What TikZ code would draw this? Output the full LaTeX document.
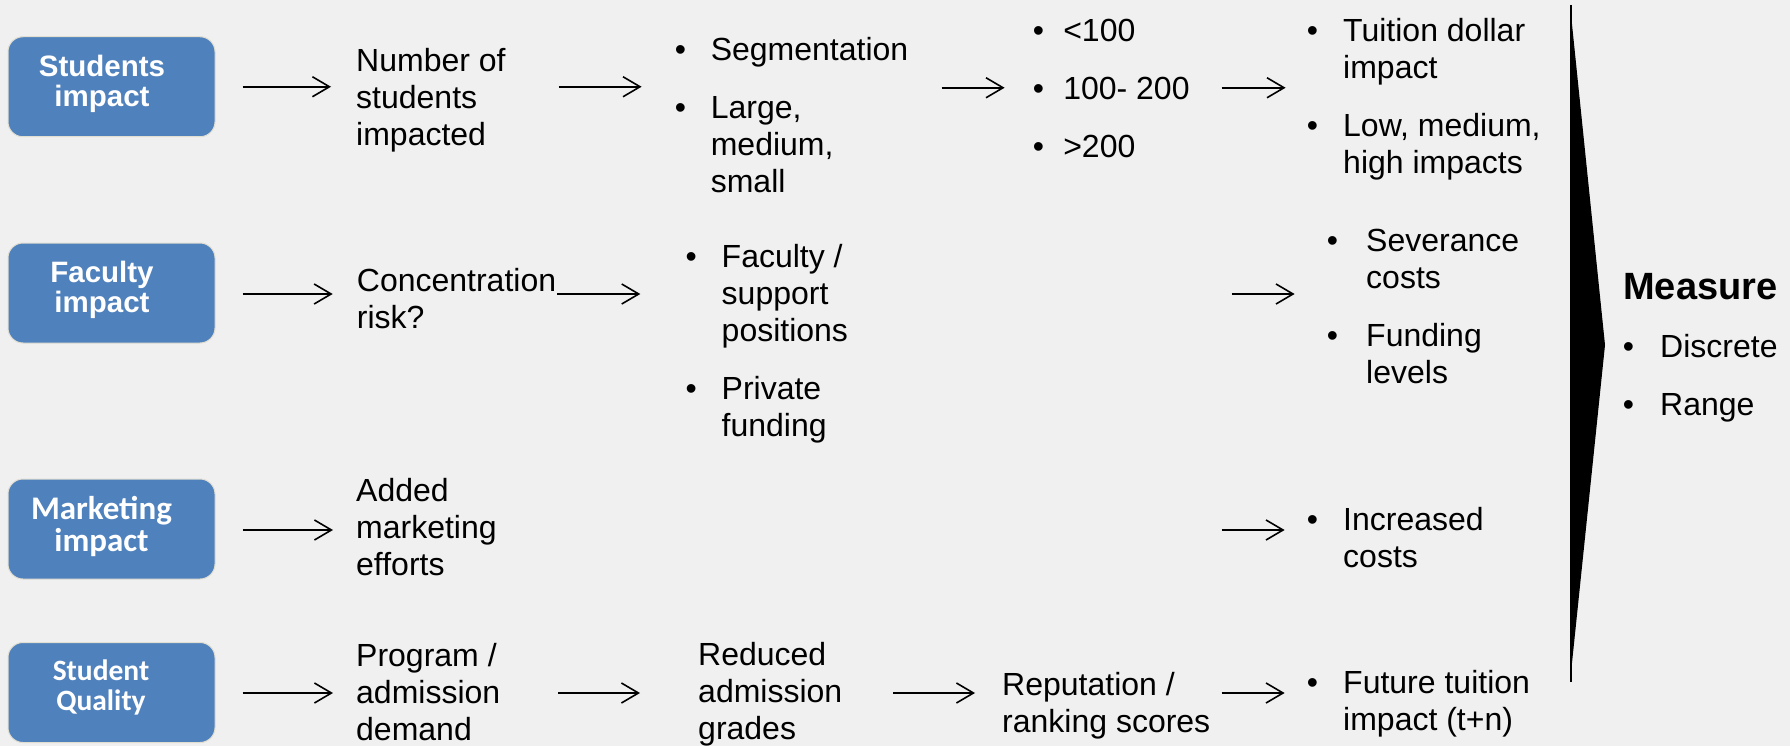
\documentclass[tikz,border=0pt]{standalone}
\usepackage{fontspec}
\setmainfont{Liberation Sans}
\newfontfamily\calibri{Carlito}
\usetikzlibrary{arrows.meta,calc}
\definecolor{bg}{RGB}{240,240,240}
\definecolor{boxblue}{RGB}{79,129,189}
\definecolor{boxedge}{RGB}{225,222,210}
\newcommand{\mytl}[1]{\begin{tabular}[t]{@{}l@{}}#1\end{tabular}}
\newcommand{\mybl}[2]{\begin{tabular}[t]{@{}p{#1}@{}l@{}}#2\end{tabular}}
\newcommand{\mytc}[1]{\begin{tabular}[t]{@{}c@{}}#1\end{tabular}}
\newcommand{\mybu}{\textbullet}
\newcommand{\mypg}{\\[21pt]}
\begin{document}
\begin{tikzpicture}[x=1pt,y=-1pt,
  txt/.style={anchor=north west, inner sep=0pt, font=\fontsize{32}{37}\selectfont},
  box/.style={rounded corners=15pt, fill=boxblue, draw=boxedge, line width=1pt, minimum width=207pt, minimum height=100pt, inner sep=0pt},
  btA/.style={anchor=north, inner sep=0pt, text=white, font=\fontsize{29.5}{30}\selectfont\bfseries},
  btB/.style={anchor=north, inner sep=0pt, text=white, font=\calibri\fontsize{33}{30}\selectfont\bfseries},
  btC/.style={anchor=north, inner sep=0pt, text=white, font=\calibri\fontsize{29.5}{29}\selectfont\bfseries},
  arr/.style={line width=1.6pt, -{Straight Barb[length=17pt,width=20pt]}}]
\useasboundingbox (0,0) rectangle (1790,746);
\fill[bg] (0,0) rectangle (1790,746);

% category boxes
\node[box] (b1) at (111.5,86.75) {};
\node[btA] (t1) at (102,55) {\mytc{Students\\impact}};
\node[box] (b2) at (111.5,293) {};
\node[btA] (t2) at (102,260.7) {\mytc{Faculty\\impact}};
\node[box] (b3) at (111.5,529) {};
\node[btB] (t3) at (101.5,496) {\mytc{Marketing\\impact}};
\node[box] (b4) at (111.5,692.5) {};
\node[btC] (t4) at (101,659.7) {\mytc{Student\\Quality}};

% texts
\node[txt] (n1) at (356,45.1) {\mytl{Number of\\students\\impacted}};
\node[txt] (n2) at (674.6,34.1) {\mybl{36pt}{\mybu & Segmentation\mypg \mybu & Large,\\ & medium,\\ & small}};
\node[txt] (n3) at (1032.6,15.1) {\mybl{30.5pt}{\mybu & <100\mypg \mybu & 100- 200\mypg \mybu & >200}};
\node[txt] (n4) at (1306.6,15.1) {\mybl{36.4pt}{\mybu & Tuition dollar\\ & impact\mypg \mybu & Low, medium,\\ & high impacts}};
\node[txt] (n5) at (356.7,265.1) {\mytl{Concentration\\risk?}};
\node[txt] (n6) at (685.3,241) {\mybl{36.2pt}{\mybu & Faculty /\\ & support\\ & positions\mypg \mybu & Private\\ & funding}};
\node[txt] (n7) at (1326.6,225.8) {\mybl{39.4pt}{\mybu & Severance\\ & costs\mypg \mybu & Funding\\ & levels}};
\node[txt] (n8) at (356,475.8) {\mytl{Added\\marketing\\efforts}};
\node[txt] (n9) at (1306.6,504.8) {\mybl{36.4pt}{\mybu & Increased\\ & costs}};
\node[txt] (n10) at (356,640.1) {\mytl{Program /\\admission\\demand}};
\node[txt] (n11) at (698,639.1) {\mytl{Reduced\\admission\\grades}};
\node[txt] (n12) at (1002,669.1) {\mytl{Reputation /\\ranking scores}};
\node[txt] (n13) at (1306.6,667.1) {\mybl{36.4pt}{\mybu & Future tuition\\ & impact (t+n)}};
\node[anchor=base west, inner sep=0pt, font=\fontsize{38}{44}\selectfont\bfseries] (m) at (1623,299) {Measure};
\node[txt] (n14) at (1622.6,331.1) {\mybl{37.4pt}{\mybu & Discrete\mypg \mybu & Range}};

% arrows row 1
\draw[arr] ($(b1.east)+(27,0)$) -- ($(n1.west |- b1.east)+(-25,0)$);
\draw[arr] ($(n2.west |- b1.east)+(-116,0)$) -- ($(n2.west |- b1.east)+(-33,0)$);
\draw[arr] ($(n3.west |- b1.east)+(-91,1)$) -- ($(n3.west |- b1.east)+(-28,1)$);
\draw[arr] ($(n4.west |- b1.east)+(-85,1)$) -- ($(n4.west |- b1.east)+(-21,1)$);
% row 2
\draw[arr] ($(b2.east)+(27,1)$) -- ($(n5.west |- b2.east)+(-24,1)$);
\draw[arr] ($(n6.west |- b2.east)+(-128,1)$) -- ($(n6.west |- b2.east)+(-45,1)$);
\draw[arr] ($(n7.west |- b2.east)+(-95,1)$) -- ($(n7.west |- b2.east)+(-32,1)$);
% row 3
\draw[arr] ($(b3.east)+(27,1)$) -- ($(n8.west |- b3.east)+(-23,1)$);
\draw[arr] ($(n9.west |- b3.east)+(-85,1)$) -- ($(n9.west |- b3.east)+(-22,1)$);
% row 4
\draw[arr] ($(b4.east)+(27,0.5)$) -- ($(n10.west |- b4.east)+(-23,0.5)$);
\draw[arr] ($(n11.west |- b4.east)+(-140,0.5)$) -- ($(n11.west |- b4.east)+(-58,0.5)$);
\draw[arr] ($(n12.west |- b4.east)+(-109,0.5)$) -- ($(n12.west |- b4.east)+(-27,0.5)$);
\draw[arr] ($(n13.west |- b4.east)+(-85,0.5)$) -- ($(n13.west |- b4.east)+(-22,0.5)$);

% measure chevron
\fill (1570,5) -- (1605,345) -- (1570,682) -- cycle;
\draw[line width=2pt] (1571,5) -- (1571,682);
\end{tikzpicture}
\end{document}
